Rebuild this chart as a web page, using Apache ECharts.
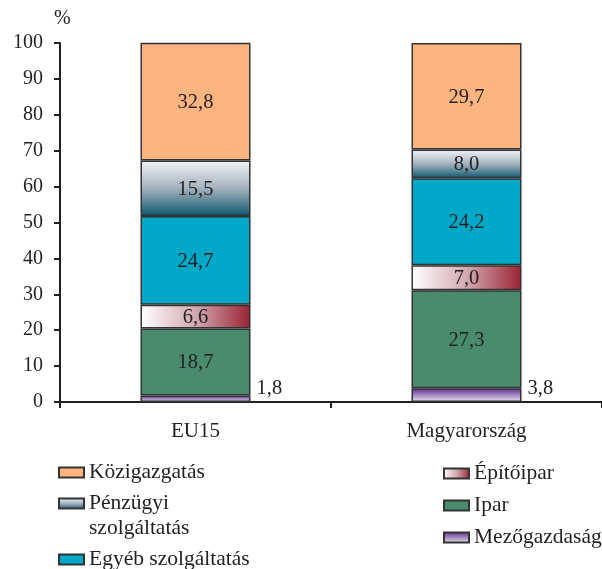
<!DOCTYPE html>
<html>
<head>
<meta charset="utf-8">
<script src="https://cdn.jsdelivr.net/npm/echarts@6/dist/echarts.min.js"></script>
<style>
  html, body { margin: 0; padding: 0; background: #fff; }
  #chart { width: 602px; height: 569px; }
</style>
</head>
<body>
<div id="chart"></div>
<script>
// Employment structure by sector (%), EU15 vs Hungary
var categories = ['EU15', 'Magyarország'];
var sectorNames = ['Mezőgazdaság', 'Ipar', 'Építőipar', 'Egyéb szolgáltatás', 'Pénzügyi szolgáltatás', 'Közigazgatás'];
var mezogazdasag = [1.8, 3.8];
var ipar = [18.7, 27.3];
var epitoipar = [6.6, 7.0];
var egyebSzolg = [24.7, 24.2];
var penzugyi = [15.5, 8.0];
var kozigazgatas = [32.8, 29.7];
var yTicks = [0, 10, 20, 30, 40, 50, 60, 70, 80, 90, 100];

var FONT = '"Liberation Serif", "Times New Roman", serif';
var TEXT = '#231f20';

function fmt(v) { return v.toFixed(1).replace('.', ','); }

var fills = {
  'Mezőgazdaság': new echarts.graphic.LinearGradient(0, 0, 0, 1, [
    { offset: 0, color: '#5a2d8c' }, { offset: 1, color: '#ece6f3' }]),
  'Ipar': '#4a8b6d',
  'Építőipar': new echarts.graphic.LinearGradient(0, 0, 1, 0, [
    { offset: 0, color: '#ffffff' }, { offset: 0.5, color: '#d2a9b1' }, { offset: 1, color: '#9a2233' }]),
  'Egyéb szolgáltatás': '#00a8c8',
  'Pénzügyi szolgáltatás': new echarts.graphic.LinearGradient(0, 0, 0, 1, [
    { offset: 0, color: '#f2f4f7' }, { offset: 0.5, color: '#a4b2be' }, { offset: 1, color: '#0f5870' }]),
  'Közigazgatás': '#fcb480'
};

var values = [mezogazdasag, ipar, epitoipar, egyebSzolg, penzugyi, kozigazgatas];

var series = sectorNames.map(function (name, i) {
  var outside = (i === 0);
  return {
    name: name,
    type: 'bar',
    stack: 'total',
    barWidth: 110,
    data: values[i],
    itemStyle: { color: fills[name], borderColor: '#333', borderWidth: 1.5 },
    label: outside ? {
      show: true,
      position: ['100%', '100%'],
      align: 'left',
      verticalAlign: 'bottom',
      offset: [6, -3],
      fontFamily: FONT, fontSize: 20.5, color: TEXT,
      formatter: function (p) { return fmt(p.value); }
    } : {
      show: true,
      position: 'inside',
      offset: [0, 1],
      fontFamily: FONT, fontSize: 20.5, color: TEXT,
      formatter: function (p) { return fmt(p.value); }
    }
  };
});

function legendItem(name, left, top, extra) {
  var l = {
    data: [name],
    left: left, top: top,
    padding: 0,
    icon: 'rect',
    itemWidth: 25, itemHeight: 10,
    selectedMode: false,
    textStyle: { fontFamily: FONT, fontSize: 21.5, color: TEXT, lineHeight: 25 }
  };
  if (extra) { for (var k in extra) l[k] = extra[k]; }
  return l;
}

var legends = [
  legendItem('Közigazgatás', 58, 460),
  // blank first line keeps the icon level with "Pénzügyi"
  legendItem('Pénzügyi szolgáltatás', 58, 466, {
    formatter: function () { return ' \nPénzügyi\nszolgáltatás'; }
  }),
  legendItem('Egyéb szolgáltatás', 58, 547),
  legendItem('Építőipar', 443, 461),
  legendItem('Ipar', 443, 493),
  legendItem('Mezőgazdaság', 443, 525)
];

var chart = echarts.init(document.getElementById('chart'), null, { renderer: 'canvas' });
chart.setOption({
  animation: false,
  backgroundColor: '#ffffff',
  legend: legends,
  grid: { left: 60, top: 43, width: 546, bottom: 167 },
  xAxis: {
    type: 'category',
    data: categories,
    axisLine: { lineStyle: { color: '#231f20', width: 2 } },
    axisTick: { show: true, length: 6, lineStyle: { color: '#231f20', width: 2 } },
    axisLabel: { fontFamily: FONT, fontSize: 21, color: TEXT, margin: 19 }
  },
  yAxis: {
    type: 'value',
    min: yTicks[0], max: yTicks[yTicks.length - 1], interval: 10,
    name: '%',
    nameGap: 14,
    nameTextStyle: { fontFamily: FONT, fontSize: 20, color: TEXT, align: 'left', padding: [0, 0, 0, -6] },
    axisLine: { show: true, lineStyle: { color: '#231f20', width: 2 } },
    axisTick: { show: true, length: 6, lineStyle: { color: '#231f20', width: 2 } },
    splitLine: { show: false },
    axisLabel: { fontFamily: FONT, fontSize: 20, color: TEXT, margin: 17 }
  },
  series: series
});
</script>
</body>
</html>
